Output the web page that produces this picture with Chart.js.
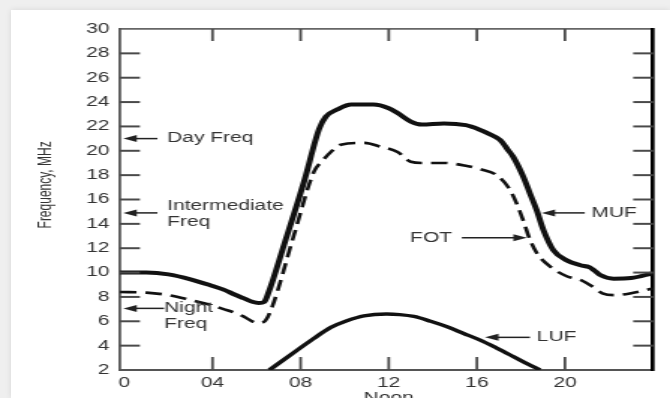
<!DOCTYPE html>
<html>
<head>
<meta charset="utf-8">
<title>MUF / FOT / LUF</title>
<script src="https://cdn.jsdelivr.net/npm/chart.js@4.4.1/dist/chart.umd.min.js"></script>
<style>
  html, body { margin: 0; padding: 0; overflow: hidden; background: #efefef; }
  body { width: 670px; height: 398px; position: relative; }
  #panel { position: absolute; left: 11px; top: 10px; width: 659px; height: 388px; background: #fff; box-shadow: 0 0 6px rgba(0, 0, 0, 0.10); }
  /* the reference is stretched sideways, so the canvas is too */
  #wrap { position: absolute; left: 0; top: 0; width: 447px; height: 412px; transform: scaleX(1.4989); transform-origin: 0 0; }
</style>
</head>
<body>
<div id="panel"></div>
<div id="wrap"><canvas id="chart"></canvas></div>
<script>
(function () {
    'use strict';

    // hours of the day (x) and frequency in MHz (y)
    const mufHours = [-0.2, 1, 2, 3, 4, 4.5, 5, 5.4, 5.8, 6.1, 6.35, 6.55, 7.25, 8.16, 8.84, 9.14, 9.67, 10.3, 11.3, 12.0, 12.4, 13.0, 13.5, 14.5, 15.5, 16.1, 16.6, 17.05, 17.4, 17.65, 18.1, 18.41, 18.72, 19.02, 19.47, 20.08, 20.7, 21.1, 21.35, 21.6, 22.2, 23.0, 24.0];
    const mufValues = [10.0, 10.0, 9.85, 9.45, 8.9, 8.6, 8.2, 7.9, 7.6, 7.5, 7.6, 8.4, 12.3, 17.5, 21.8, 22.8, 23.4, 23.8, 23.8, 23.5, 23.1, 22.4, 22.15, 22.25, 22.1, 21.75, 21.35, 20.9, 20.1, 19.5, 17.9, 16.5, 15.1, 13.5, 11.85, 11.0, 10.6, 10.45, 10.15, 9.8, 9.5, 9.55, 9.95];

    const fotHours = [-0.2, 1, 2, 3, 4, 4.5, 5, 5.4, 5.8, 6.1, 6.4, 6.73, 7.7, 8.61, 9.0, 9.37, 9.82, 10.9, 11.6, 12.4, 13.0, 13.5, 14.5, 15.55, 16.14, 16.9, 17.5, 17.8, 18.1, 18.41, 18.72, 19.32, 20.08, 20.7, 21.3, 21.7, 22.3, 23.0, 24.0];
    const fotValues = [8.4, 8.35, 8.15, 7.75, 7.3, 7.0, 6.7, 6.4, 6.0, 5.85, 6.05, 7.3, 13.1, 18.3, 19.2, 19.9, 20.5, 20.65, 20.35, 19.9, 19.1, 19.0, 19.0, 18.75, 18.5, 18.0, 16.8, 15.7, 14.3, 12.7, 11.6, 10.5, 9.7, 9.4, 8.8, 8.3, 8.15, 8.3, 8.7];

    const lufHours = [6.58, 7.2, 7.86, 8.6, 9.37, 10.1, 10.87, 11.9, 12.5, 13.14, 13.9, 14.65, 15.4, 16.15, 16.9, 17.66, 18.3, 18.87];
    const lufValues = [2.0, 2.8, 3.65, 4.6, 5.5, 6.05, 6.45, 6.6, 6.55, 6.4, 6.0, 5.55, 5.0, 4.45, 3.8, 3.1, 2.5, 2.0];

    const xTicks = [0, 4, 8, 12, 16, 20];
    const xTickLabels = ['0', '04', '08', ['12', 'Noon'], '16', '20'];
    const xTickMarks = [4, 8, 12, 16, 20];
    const yTickMarks = [4, 6, 8, 10, 12, 14, 16, 18, 20, 22, 24, 26, 28];

    const yTitle = 'Frequency, MHz';

    // callouts: text lines, where the text starts, and the arrow (tip -> tail)
    const notes = [
        { lines: ['Day Freq'], at: [1.94, 21], tip: [-0.05, 21], tail: [1.5, 21] },
        { lines: ['Intermediate', 'Freq'], at: [1.94, 15.45], tip: [-0.05, 14.9], tail: [1.5, 14.9] },
        { lines: ['Night', 'Freq'], at: [1.8, 7.06], tip: [-0.05, 7.06], tail: [1.8, 7.06] },
        { lines: ['MUF'], at: [21.2, 14.9], tip: [18.94, 14.9], tail: [20.9, 14.9] },
        { lines: ['FOT'], at: [12.97, 12.86], tip: [18.27, 12.86], tail: [15.32, 12.86] },
        { lines: ['LUF'], at: [18.72, 4.68], tip: [16.37, 4.68], tail: [18.41, 4.68] },
    ];

    const FONT = "'Liberation Sans', Arial, Helvetica, sans-serif";
    Chart.defaults.font.family = FONT;
    Chart.defaults.color = '#333';

    const pts = (xs, ys) => xs.map((h, i) => ({ x: h, y: ys[i] }));

    const decorations = {
        id: 'decorations',
        afterDraw(chart) {
            const { ctx, chartArea: a, scales: { x, y } } = chart;
            const seg = (x1, y1, x2, y2) => {
                ctx.beginPath();
                ctx.moveTo(x1, y1);
                ctx.lineTo(x2, y2);
                ctx.stroke();
            };
            ctx.save();

            // inward tick marks on all four sides
            ctx.strokeStyle = '#4a4a4a';
            ctx.lineWidth = 2;
            yTickMarks.forEach((v) => {
                const py = y.getPixelForValue(v);
                seg(a.left, py, a.left + 13.3, py);
                seg(a.right - 13.3, py, a.right, py);
            });
            ctx.lineWidth = 1.8;
            xTickMarks.forEach((v) => {
                const px = x.getPixelForValue(v);
                seg(px, a.top, px, a.top + 12);
                seg(px, a.bottom - 13, px, a.bottom);
            });

            // callouts
            ctx.font = '14px ' + FONT;
            ctx.textBaseline = 'middle';
            ctx.textAlign = 'left';
            notes.forEach((n) => {
                const tx = x.getPixelForValue(n.tip[0]);
                const ty = y.getPixelForValue(n.tip[1]);
                const ex = x.getPixelForValue(n.tail[0]);
                const dir = ex > tx ? 1 : -1;
                ctx.strokeStyle = '#222';
                ctx.fillStyle = '#222';
                ctx.lineWidth = 1.5;
                seg(tx + dir * 6, ty, ex, ty);
                ctx.beginPath();
                ctx.moveTo(tx, ty);
                ctx.lineTo(tx + dir * 9, ty - 3.5);
                ctx.lineTo(tx + dir * 9, ty + 3.5);
                ctx.closePath();
                ctx.fill();

                ctx.fillStyle = '#333';
                const lx = x.getPixelForValue(n.at[0]);
                const ly = y.getPixelForValue(n.at[1]);
                n.lines.forEach((t, i) => ctx.fillText(t, lx, ly + i * 16));
            });

            // y axis title
            ctx.font = '12px ' + FONT;
            ctx.textAlign = 'center';
            ctx.translate(30.6, y.getPixelForValue(17.2));
            ctx.rotate(-Math.PI / 2);
            ctx.fillText(yTitle, 0, 0);
            ctx.restore();
        },
    };

    new Chart(document.getElementById('chart'), {
        type: 'line',
        data: {
            datasets: [
                {
                    label: 'MUF',
                    data: pts(mufHours, mufValues),
                    borderColor: '#111',
                    borderWidth: 4,
                    pointRadius: 0,
                    cubicInterpolationMode: 'monotone',
                },
                {
                    label: 'FOT',
                    data: pts(fotHours, fotValues),
                    borderColor: '#111',
                    borderWidth: 2.6,
                    borderDash: [11, 6],
                    pointRadius: 0,
                    cubicInterpolationMode: 'monotone',
                },
                {
                    label: 'LUF',
                    data: pts(lufHours, lufValues),
                    borderColor: '#111',
                    borderWidth: 3.4,
                    pointRadius: 0,
                    cubicInterpolationMode: 'monotone',
                },
            ],
        },
        options: {
            responsive: true,
            maintainAspectRatio: false,
            animation: false,
            layout: { padding: { top: 29, right: 11.3, left: 0, bottom: 0 } },
            plugins: {
                legend: { display: false },
                tooltip: { enabled: false },
            },
            scales: {
                x: {
                    type: 'linear',
                    position: 'bottom',
                    min: -0.2,
                    max: 24,
                    afterBuildTicks: (s) => { s.ticks = xTicks.map((v) => ({ value: v })); },
                    afterFit: (s) => { s.height = 42; },
                    ticks: {
                        autoSkip: false,
                        maxRotation: 0,
                        padding: 5,
                        color: '#333',
                        font: { size: 14, lineHeight: 1.1 },
                        callback: (v, i) => xTickLabels[i],
                    },
                    grid: { display: false, drawTicks: false },
                    border: { color: '#555', width: 2 },
                },
                x2: {
                    type: 'linear',
                    position: 'top',
                    min: -0.2,
                    max: 24,
                    ticks: { display: false },
                    grid: { display: false, drawTicks: false },
                    border: { color: '#666', width: 1.8 },
                },
                y: {
                    min: 2,
                    max: 30,
                    afterFit: (s) => { s.width = 80.06; },
                    ticks: { stepSize: 2, padding: 7, color: '#333', font: { size: 14 } },
                    grid: { display: false, drawTicks: false },
                    border: { color: '#555', width: 1.8 },
                },
                y2: {
                    position: 'right',
                    min: 2,
                    max: 30,
                    afterFit: (s) => { s.width = 0; },
                    ticks: { display: false },
                    grid: { display: false, drawTicks: false },
                    border: { color: '#000', width: 2.7 },
                },
            },
        },
        plugins: [decorations],
    });
})();
</script>
</body>
</html>
